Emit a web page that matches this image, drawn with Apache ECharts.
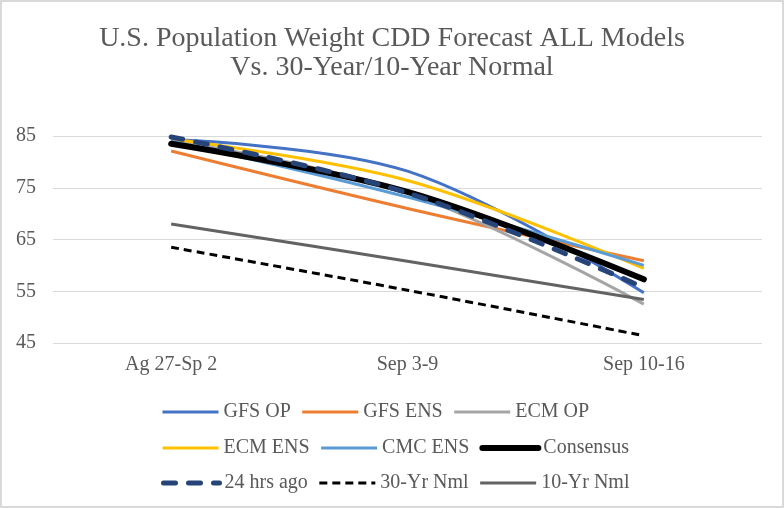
<!DOCTYPE html>
<html>
<head>
<meta charset="utf-8">
<script src="https://cdn.jsdelivr.net/npm/echarts@6/dist/echarts.min.js"></script>
<style>
	html, body { margin: 0; padding: 0; background: #fff; }
	#main { width: 784px; height: 508px; box-sizing: border-box; border: 2px solid #d9d9d9; }
</style>
</head>
<body>
<div id="main"></div>
<script>
// categories
const weeks = ['Ag 27-Sp 2', 'Sep 3-9', 'Sep 10-16'];
// CDD values per model
const gfsOp = [84.3, 78.2, 54.7];
const gfsEns = [82.1, 71.0, 60.9];
const ecmOp = [84.2, 74.0, 52.5];
const ecmEns = [84.4, 76.4, 59.4];
const cmcEns = [84.0, 73.2, 60.0];
const consensus = [83.5, 74.2, 57.3];
const hrsAgo = [84.8, 74.0, 55.7];
const nml30 = [63.5, 55.2, 46.4];
const nml10 = [68.0, 60.8, 53.4];
const yTicks = [45, 55, 65, 75, 85];

const font = '"Liberation Serif", "Times New Roman", serif';
const txt = '#595959';

function line(name, data, color, width, type, cap) {
	return {
		name: name,
		type: 'line',
		data: data,
		smooth: 0.35,
		symbol: 'none',
		lineStyle: { color: color, width: width, type: type || 'solid', cap: cap || 'butt' },
		itemStyle: { color: color }
	};
}

function legendRow(names, top) {
	return {
		top: top,
		left: 159,
		padding: 0,
		itemWidth: 56,
		itemHeight: 14,
		itemGap: 10,
		data: names,
		// hide the circle that line series put in the legend
		itemStyle: { opacity: 0 },
		lineStyle: { width: 'inherit', type: 'inherit', cap: 'inherit' },
		formatter: function (n) { return '{a|' + n + '}'; },
		textStyle: {
			fontFamily: font,
			fontSize: 20,
			color: txt,
			rich: { a: { width: 87, fontFamily: font, fontSize: 20, color: txt } }
		}
	};
}

const chart = echarts.init(document.getElementById('main'));
chart.setOption({
	animation: false,
	title: {
		text: 'U.S. Population Weight CDD Forecast ALL Models\nVs. 30-Year/10-Year Normal',
		left: 'center',
		top: 17,
		textStyle: { fontFamily: font, fontSize: 28, fontWeight: 'normal', color: txt, lineHeight: 29 }
	},
	legend: [
		legendRow(['GFS OP', 'GFS ENS', 'ECM OP'], 400),
		legendRow(['ECM ENS', 'CMC ENS', 'Consensus'], 436),
		legendRow(['24 hrs ago', '30-Yr Nml', '10-Yr Nml'], 471)
	],
	grid: { left: 51, right: 20, top: 134, bottom: 163, containLabel: false },
	xAxis: {
		type: 'category',
		data: weeks,
		boundaryGap: true,
		axisLine: { show: false },
		axisTick: { show: false },
		axisLabel: { fontFamily: font, fontSize: 20, color: txt, margin: 12 }
	},
	yAxis: {
		type: 'value',
		min: yTicks[0],
		max: yTicks[yTicks.length - 1],
		interval: 10,
		axisLine: { show: false },
		axisTick: { show: false },
		axisLabel: { fontFamily: font, fontSize: 20, color: txt, margin: 17 },
		splitLine: { lineStyle: { color: '#d9d9d9', width: 1 } }
	},
	series: [
		line('GFS OP', gfsOp, '#4472C4', 3),
		line('GFS ENS', gfsEns, '#ED7D31', 3),
		line('ECM OP', ecmOp, '#A5A5A5', 3),
		line('ECM ENS', ecmEns, '#FFC000', 3),
		line('CMC ENS', cmcEns, '#5B9BD5', 3),
		line('Consensus', consensus, '#000000', 6, 'solid', 'round'),
		line('24 hrs ago', hrsAgo, '#264478', 5, [12, 13], 'round'),
		line('30-Yr Nml', nml30, '#000000', 3, [8, 5]),
		line('10-Yr Nml', nml10, '#636363', 3)
	]
});
</script>
</body>
</html>
